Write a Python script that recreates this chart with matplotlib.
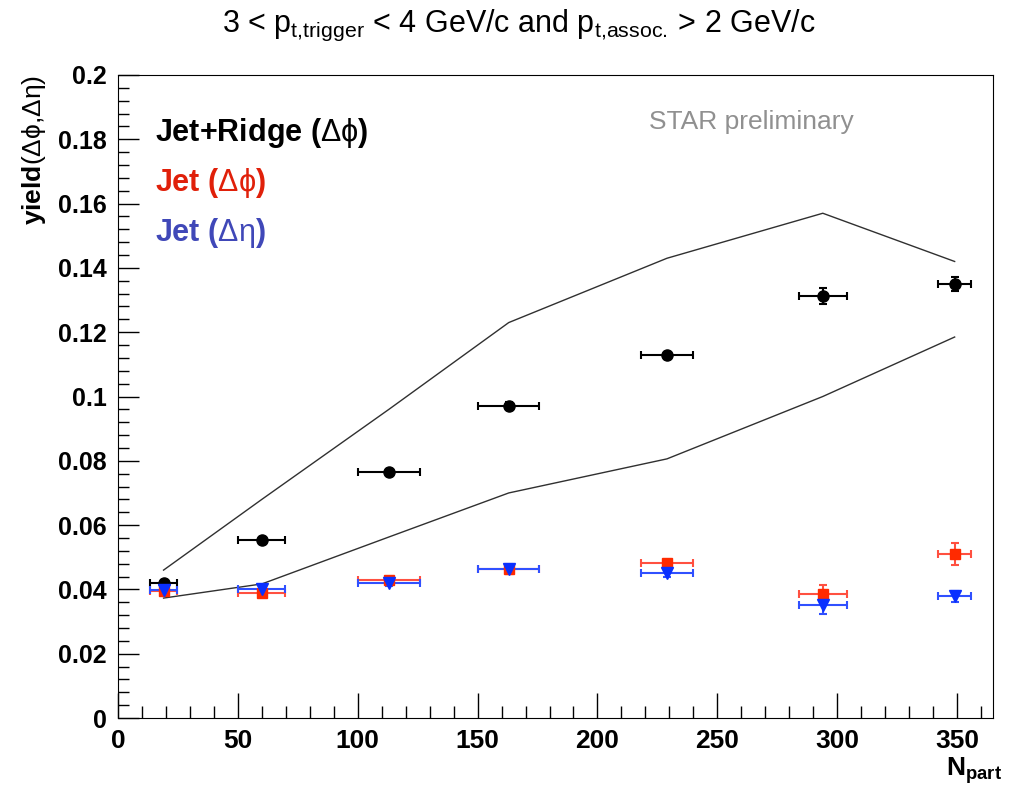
import matplotlib
matplotlib.use("Agg")
import matplotlib.pyplot as plt
from matplotlib.ticker import MultipleLocator

# N_part positions and horizontal errors
npart = [19, 60, 113, 163, 229, 294, 349]
npart_err = [5.8, 9.8, 12.9, 12.7, 11.0, 9.9, 7.0]

# Jet+Ridge (dphi)
jr = [0.042, 0.0554, 0.0765, 0.0972, 0.1128, 0.1312, 0.1350]
jr_err = [0.001, 0.001, 0.001, 0.001, 0.001, 0.0025, 0.0022]

# Jet (dphi)
jet_phi = [0.0395, 0.0389, 0.0430, 0.0463, 0.0481, 0.0385, 0.0510]
jet_phi_err = [0.0012, 0.0010, 0.0010, 0.0016, 0.0012, 0.0028, 0.0034]

# Jet (deta)
jet_eta = [0.0398, 0.0402, 0.0420, 0.0465, 0.0452, 0.0350, 0.0378]
jet_eta_err = [0.0010, 0.0010, 0.0010, 0.0010, 0.0012, 0.0025, 0.0016]

# systematic band for jet+ridge
band_hi = [0.046, 0.068, 0.096, 0.123, 0.143, 0.157, 0.142]
band_lo = [0.0373, 0.0417, 0.0563, 0.0700, 0.0806, 0.1000, 0.1185]

plt.rcParams['font.family'] = ['Liberation Sans', 'DejaVu Sans']
plt.rcParams['mathtext.fontset'] = 'custom'
plt.rcParams['mathtext.rm'] = 'Liberation Sans'
plt.rcParams['mathtext.bf'] = 'Liberation Sans:bold'
plt.rcParams['mathtext.default'] = 'regular'

fig = plt.figure(figsize=(10.21, 7.89), dpi=100)
ax = fig.add_axes([118/1021, 1 - 718/789, (993-118)/1021, (718-75)/789])

ax.plot(npart, band_hi, color='#303030', lw=1)
ax.plot(npart, band_lo, color='#303030', lw=1)

ax.errorbar(npart, jr, xerr=npart_err, yerr=jr_err, fmt='o', color='black',
            ms=8, elinewidth=1.5, capsize=3, capthick=1.5)
ax.errorbar(npart, jet_phi, xerr=npart_err, yerr=jet_phi_err, fmt='s', color='#ff2a00',
            ecolor='#ff5040', ms=7, elinewidth=1.5, capsize=3, capthick=1.5)
ax.errorbar(npart, jet_eta, xerr=npart_err, yerr=jet_eta_err, fmt='v', color='#0a30ff',
            ecolor='#3050ff', ms=8, elinewidth=1.5, capsize=3, capthick=1.5)

ax.set_xlim(0, 365)
ax.set_ylim(0, 0.2)
ax.xaxis.set_major_locator(MultipleLocator(50))
ax.xaxis.set_minor_locator(MultipleLocator(10))
ax.yaxis.set_major_locator(MultipleLocator(0.02))
ax.yaxis.set_minor_locator(MultipleLocator(0.004))
ax.tick_params(axis='x', which='major', direction='in', length=18, width=1, pad=8)
ax.tick_params(axis='x', which='minor', direction='in', length=9, width=1)
ax.tick_params(axis='y', which='major', direction='in', length=15, width=1, pad=8)
ax.tick_params(axis='y', which='minor', direction='in', length=8, width=1)
ax.tick_params(top=False, right=False)
ax.set_yticks([0, 0.02, 0.04, 0.06, 0.08, 0.1, 0.12, 0.14, 0.16, 0.18, 0.2])
ax.set_yticklabels(['0', '0.02', '0.04', '0.06', '0.08', '0.1', '0.12', '0.14',
                    '0.16', '0.18', '0.2'])
for lab in ax.get_yticklabels():
    lab.set_fontsize(18)
    lab.set_fontweight('bold')
for lab in ax.get_xticklabels():
    lab.set_fontsize(19)
    lab.set_fontweight('bold')

ax.set_ylabel(r'yield$\mathrm{(\Delta\phi{,}\Delta\eta)}$', fontsize=19, fontweight='bold', loc='top')
ax.yaxis.set_label_coords(-0.08, 1.0)
ax.set_xlabel(r'N$_{\mathbf{part}}$', fontsize=19, fontweight='bold', loc='right')
ax.xaxis.set_label_coords(1.01, -0.058)

fig.text(0.508, 0.968, r'3 < p$_{t{,}trigger}$ < 4 GeV/c and p$_{t{,}assoc.\!}$ > 2 GeV/c',
         ha='center', va='center', fontsize=22)

ax.text(0.042, 0.910, r'Jet+Ridge ($\mathrm{\Delta\phi}$)', transform=ax.transAxes,
        fontsize=22, fontweight='bold', color='black', va='center')
ax.text(0.042, 0.832, r'Jet ($\mathrm{\Delta\phi}$)', transform=ax.transAxes,
        fontsize=22, fontweight='bold', color='#e0200a', va='center')
ax.text(0.042, 0.754, r'Jet ($\mathrm{\Delta\eta}$)', transform=ax.transAxes,
        fontsize=22, fontweight='bold', color='#4048b8', va='center')
ax.text(0.607, 0.927, 'STAR preliminary', transform=ax.transAxes,
        fontsize=19, color='#909090', va='center')

fig.savefig('out.png', dpi=100)
